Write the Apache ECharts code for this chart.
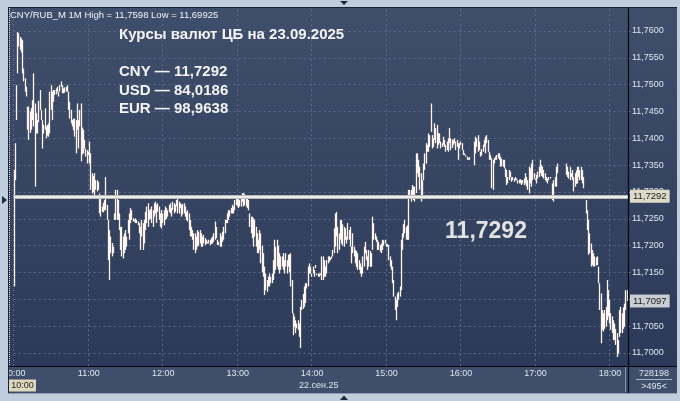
<!DOCTYPE html>
<html><head><meta charset="utf-8">
<script src="https://cdn.jsdelivr.net/npm/echarts@6/dist/echarts.min.js"></script>
<style>html,body{margin:0;padding:0;background:#bfcddc}#c{width:680px;height:401px}</style>
</head><body><div id="c"></div>
<script>
// 1-minute bars, CNY/RUB_M, 22.09.25 from 10:00 (null = no trades)
const highs = [
11.7341,11.7391,11.7499,11.7598,11.7596,11.7589,11.7586,11.7583,11.7530,11.7512,
11.7496,11.7459,11.7459,11.7450,11.7456,11.7471,11.7521,11.7465,11.7447,11.7434,
11.7470,11.7490,11.7453,11.7434,11.7425,11.7456,11.7422,11.7425,11.7428,11.7487,
11.7499,11.7487,11.7490,11.7490,11.7493,11.7496,11.7487,11.7499,11.7506,11.7499,
11.7493,11.7495,11.7496,11.7499,11.7487,11.7468,11.7453,11.7434,11.7436,11.7437,
11.7434,11.7465,11.7434,11.7453,11.7465,11.7420,11.7416,11.7397,11.7381,11.7378,
11.7375,11.7394,11.7372,11.7335,11.7330,11.7335,11.7322,11.7322,11.7319,11.7297,
11.7291,11.7273,11.7280,11.7285,11.7328,11.7276,11.7248,11.7229,11.7217,11.7205,
11.7198,11.7260,11.7304,
11.7304,11.7285,11.7260,11.7235,11.7235,11.7217,11.7223,11.7229,11.7217,11.7248,
11.7260,11.7270,11.7266,11.7251,11.7248,11.7251,11.7248,11.7245,11.7242,11.7235,
11.7248,11.7242,11.7248,11.7263,11.7273,11.7279,11.7266,11.7268,11.7273,11.7266,
11.7279,11.7282,11.7276,11.7279,11.7273,11.7260,11.7266,11.7260,11.7266,11.7273,
11.7270,11.7266,11.7276,11.7279,11.7270,11.7282,11.7279,11.7276,11.7285,11.7288,
11.7282,11.7279,11.7276,11.7278,11.7279,11.7273,11.7263,11.7266,11.7260,11.7248,
11.7235,11.7229,11.7223,11.7223,11.7217,11.7229,11.7226,11.7229,11.7223,11.7217,
11.7220,11.7214,11.7211,11.7207,11.7211,11.7211,11.7214,11.7217,11.7223,11.7245,
11.7235,11.7211,11.7207,
11.7223,11.7217,11.7226,11.7235,11.7248,11.7248,11.7260,11.7266,11.7266,11.7270,
11.7276,11.7273,11.7285,11.7291,11.7294,11.7291,11.7285,11.7288,11.7298,11.7298,
11.7296,11.7291,11.7294,11.7285,11.7260,11.7254,11.7254,11.7251,11.7248,11.7235,
11.7223,11.7211,11.7229,11.7223,11.7200,11.7186,11.7161,11.7148,11.7136,11.7142,
11.7148,11.7142,11.7148,11.7173,11.7211,11.7198,11.7211,11.7200,11.7186,11.7180,
11.7180,11.7186,11.7173,11.7186,11.7173,11.7183,11.7184,11.7186,11.7136,11.7074,
11.7068,11.7061,11.7055,11.7061,11.7055,11.7086,11.7099,11.7110,11.7124,11.7130,
11.7130,11.7161,11.7167,11.7161,11.7148,11.7161,11.7155,11.7164,11.7148,11.7148,
11.7148,11.7148,11.7180,
11.7180,11.7173,11.7161,11.7173,11.7180,11.7180,11.7178,11.7180,11.7192,11.7232,
11.7260,11.7263,11.7235,11.7223,11.7248,11.7248,11.7240,11.7235,11.7232,11.7217,
11.7242,11.7229,11.7235,11.7198,11.7223,11.7198,11.7192,11.7190,11.7186,11.7173,
11.7167,11.7161,11.7180,11.7198,11.7207,11.7192,11.7180,11.7192,11.7190,11.7186,
11.7254,11.7242,11.7223,11.7217,11.7211,11.7207,11.7201,11.7204,11.7211,11.7210,
11.7211,11.7204,11.7203,11.7201,11.7180,11.7173,11.7161,11.7136,11.7105,11.7099,
11.7111,11.7114,11.7124,11.7211,11.7223,11.7240,11.7248,11.7235,11.7238,11.7304,
11.7304,11.7304,11.7313,11.7310,11.7310,11.7372,11.7372,11.7360,11.7347,11.7335,
11.7322,11.7353,11.7372,
11.7391,11.7388,11.7409,11.7406,11.7465,11.7406,11.7400,11.7428,11.7419,11.7425,
11.7410,11.7409,11.7394,11.7391,11.7403,11.7397,11.7388,11.7394,11.7400,11.7419,
11.7400,11.7398,11.7397,11.7400,11.7394,11.7397,11.7391,11.7391,11.7394,11.7391,
11.7378,11.7372,11.7369,11.7366,11.7363,11.7365,null,null,null,11.7394,
11.7403,11.7400,11.7406,11.7394,11.7375,11.7380,11.7388,11.7397,11.7403,11.7406,
11.7397,11.7375,11.7369,11.7363,11.7360,11.7363,11.7366,11.7369,11.7372,11.7372,
11.7366,11.7362,11.7360,11.7360,11.7344,11.7341,11.7328,11.7341,11.7338,11.7328,
11.7328,11.7325,11.7328,11.7325,11.7322,11.7323,11.7324,11.7322,11.7322,11.7325,
11.7335,11.7328,11.7322,
11.7347,11.7344,11.7353,11.7360,11.7335,11.7325,11.7332,11.7338,11.7347,11.7360,
11.7350,11.7347,11.7341,11.7335,11.7328,11.7325,11.7328,11.7328,null,11.7316,
11.7322,11.7328,11.7347,11.7353,null,null,null,null,null,null,
11.7353,11.7347,11.7338,11.7347,11.7335,11.7341,11.7328,11.7335,11.7340,11.7347,
11.7347,11.7341,11.7347,11.7341,11.7328,null,11.7285,11.7266,11.7248,11.7223,
11.7204,11.7192,11.7186,11.7180,11.7178,11.7180,11.7161,11.7130,11.7111,11.7080,
11.7074,11.7080,11.7086,11.7136,11.7117,11.7099,11.7074,11.7068,11.7061,11.7055,
11.7045,11.7037,11.7024,11.7080,11.7086,11.7074,11.7085,11.7092,11.7117,11.7117
];
const lows = [
11.7124,11.7322,11.7434,11.7521,11.7571,11.7565,11.7560,11.7521,11.7506,11.7487,
11.7478,11.7416,11.7397,11.7410,11.7416,11.7434,11.7422,11.7310,11.7409,11.7409,
11.7430,11.7453,11.7434,11.7381,11.7409,11.7416,11.7400,11.7405,11.7403,11.7409,
11.7453,11.7434,11.7468,11.7481,11.7482,11.7487,11.7478,11.7487,11.7496,11.7484,
11.7484,11.7485,11.7487,11.7487,11.7453,11.7437,11.7428,11.7422,11.7415,11.7403,
11.7372,11.7416,11.7381,11.7422,11.7357,11.7370,11.7372,11.7381,11.7366,11.7353,
11.7369,11.7353,11.7304,11.7297,11.7300,11.7288,11.7304,11.7301,11.7304,11.7260,
11.7254,11.7263,11.7262,11.7266,11.7266,11.7248,11.7173,11.7136,11.7186,11.7180,
11.7186,11.7248,11.7248,
11.7248,11.7248,11.7229,11.7192,11.7180,11.7176,11.7186,11.7192,11.7198,11.7223,
11.7211,11.7242,11.7248,11.7245,11.7245,11.7242,11.7242,11.7238,11.7223,11.7192,
11.7217,11.7192,11.7204,11.7229,11.7242,11.7235,11.7248,11.7250,11.7242,11.7235,
11.7254,11.7260,11.7242,11.7263,11.7248,11.7235,11.7232,11.7242,11.7238,11.7248,
11.7250,11.7254,11.7263,11.7260,11.7254,11.7266,11.7260,11.7263,11.7273,11.7260,
11.7260,11.7270,11.7254,11.7258,11.7260,11.7254,11.7248,11.7245,11.7229,11.7217,
11.7217,11.7211,11.7192,11.7186,11.7192,11.7198,11.7200,11.7204,11.7198,11.7198,
11.7204,11.7201,11.7204,11.7204,11.7204,11.7201,11.7203,11.7204,11.7207,11.7211,
11.7214,11.7201,11.7201,
11.7198,11.7198,11.7207,11.7211,11.7223,11.7242,11.7242,11.7248,11.7254,11.7260,
11.7260,11.7260,11.7266,11.7276,11.7273,11.7270,11.7273,11.7273,11.7282,11.7273,
11.7275,11.7273,11.7270,11.7266,11.7235,11.7223,11.7214,11.7198,11.7217,11.7198,
11.7186,11.7186,11.7192,11.7167,11.7150,11.7142,11.7108,11.7117,11.7114,11.7124,
11.7124,11.7130,11.7130,11.7136,11.7148,11.7155,11.7161,11.7155,11.7148,11.7155,
11.7161,11.7155,11.7148,11.7161,11.7148,11.7161,11.7150,11.7124,11.7074,11.7033,
11.7049,11.7037,11.7046,11.7043,11.7030,11.7009,11.7080,11.7082,11.7086,11.7093,
11.7120,11.7124,11.7148,11.7148,11.7142,11.7148,11.7142,11.7158,11.7145,11.7142,
11.7142,11.7145,11.7136,
11.7136,11.7142,11.7142,11.7148,11.7167,11.7170,11.7173,11.7176,11.7180,11.7186,
11.7198,11.7217,11.7186,11.7192,11.7211,11.7204,11.7200,11.7198,11.7211,11.7204,
11.7211,11.7211,11.7198,11.7167,11.7186,11.7180,11.7167,11.7160,11.7155,11.7155,
11.7148,11.7142,11.7148,11.7161,11.7186,11.7173,11.7155,11.7161,11.7160,11.7161,
11.7192,11.7211,11.7211,11.7207,11.7192,11.7192,11.7189,11.7186,11.7192,11.7200,
11.7204,11.7198,11.7198,11.7173,11.7161,11.7155,11.7130,11.7105,11.7080,11.7061,
11.7086,11.7099,11.7105,11.7117,11.7192,11.7215,11.7223,11.7211,11.7211,11.7211,
11.7291,11.7282,11.7291,11.7285,11.7282,11.7298,11.7335,11.7328,11.7304,11.7282,
11.7291,11.7322,11.7341,
11.7353,11.7375,11.7375,11.7384,11.7412,11.7381,11.7384,11.7397,11.7391,11.7381,
11.7388,11.7391,11.7381,11.7384,11.7388,11.7384,11.7375,11.7378,11.7375,11.7391,
11.7378,11.7382,11.7388,11.7391,11.7378,11.7384,11.7360,11.7381,11.7388,11.7378,
11.7369,11.7369,11.7366,11.7360,11.7360,11.7360,null,null,null,11.7350,
11.7372,11.7384,11.7375,11.7378,11.7366,11.7368,11.7375,11.7384,11.7372,11.7391,
11.7375,11.7360,11.7360,11.7307,11.7304,11.7353,11.7360,11.7360,11.7363,11.7360,
11.7347,11.7348,11.7347,11.7344,11.7328,11.7313,11.7316,11.7322,11.7328,11.7319,
11.7322,11.7319,11.7322,11.7322,11.7316,11.7316,11.7316,11.7313,11.7316,11.7313,
11.7316,11.7310,11.7304,
11.7297,11.7316,11.7310,11.7322,11.7325,11.7322,11.7316,11.7325,11.7328,11.7335,
11.7330,11.7328,11.7325,11.7322,11.7319,11.7316,11.7322,11.7325,null,11.7285,
11.7282,11.7310,11.7310,11.7335,null,null,null,null,null,null,
11.7332,11.7328,11.7325,11.7322,11.7328,11.7322,11.7301,11.7310,11.7315,11.7316,
11.7328,11.7322,11.7322,11.7316,11.7307,null,11.7260,11.7229,11.7183,11.7186,
11.7161,11.7164,11.7161,11.7161,11.7163,11.7164,11.7130,11.7080,11.7018,11.7043,
11.7040,11.7045,11.7049,11.7061,11.7068,11.7055,11.7043,11.7037,11.7024,11.7024,
11.7015,11.69925,11.6999,11.7030,11.7037,11.7037,11.7045,11.7049,11.7080,11.7097
];
const startHour = 10;
const cbRate = 11.7292;
const lastPrice = 11.7097;
const headerText = 'CNY/RUB_M 1M High = 11,7598 Low = 11,69925';
const titleText = 'Курсы валют ЦБ на 23.09.2025';
const rateLines = ['CNY — 11,7292', 'USD — 84,0186', 'EUR — 98,9638'];
const dateLabel = '22.сен.25';
const volumeText = '728198';
const countText = '>495<';

const minutes = highs.map((_, i) => (startHour + Math.floor(i / 60)) + ':' + String(i % 60).padStart(2, '0'));
const candles = highs.map((h, i) => h == null ? ['-', '-', '-', '-'] : [lows[i], h, lows[i], h]);
const fmt = v => v.toFixed(4).replace('.', ',');
const FF = '"Liberation Sans", Arial, sans-serif';
const LIGHT = '#bfcddc';
const BAR = '#fff4ee';

const chart = echarts.init(document.getElementById('c'), null, {renderer: 'canvas'});
chart.setOption({
  animation: false,
  grid: {left: 9, right: 52, top: 4.17, bottom: 21.2},
  xAxis: [{
    type: 'category', data: minutes, boundaryGap: true, z: 0,
    axisLine: {show: false}, axisTick: {show: false}, axisLabel: {show: false},
    splitLine: {show: true, interval: (i) => i % 60 === 0, lineStyle: {color: '#5b6a88', type: [2, 3], width: 1}}
  }, {
    type: 'category', data: minutes, boundaryGap: true, position: 'bottom', offset: -13.8, z: 20,
    axisLine: {show: false}, axisTick: {show: false}, splitLine: {show: false},
    axisLabel: {interval: (i) => i % 60 === 0, margin: 3, color: '#dfe6f0', fontSize: 9, fontFamily: FF, hideOverlap: false}
  }],
  yAxis: {
    type: 'value', position: 'right', min: 11.695, max: 11.765, interval: 0.005, z: 0,
    axisLine: {show: false},
    axisTick: {show: true, length: 2, lineStyle: {color: '#8ea0c0'}},
    axisLabel: {margin: 4, color: '#dfe6f0', fontSize: 9, fontFamily: FF,
      formatter: v => (v < 11.6999 || v > 11.7601) ? '' : fmt(v)},
    splitLine: {show: true, lineStyle: {color: '#5b6a88', type: [2, 3], width: 1}}
  },
  series: [{
    type: 'candlestick', data: candles, barWidth: 1.2, z: 2,
    itemStyle: {color: BAR, color0: BAR, borderColor: BAR, borderColor0: BAR, borderWidth: 1.3},
    markLine: {
      silent: true, symbol: ['none', 'none'], animation: false, precision: 4,
      data: [
        {yAxis: cbRate, lineStyle: {color: '#b9b9b9', width: 4, type: 'solid'}, label: {show: false}},
        {yAxis: cbRate, lineStyle: {color: '#ffffff', width: 1.6, type: 'solid'},
          label: {show: true, position: 'end', distance: 2, formatter: fmt(cbRate), color: '#1c1c1c',
            backgroundColor: '#dedbc8', padding: [2, 3, 1, 3], fontSize: 9.5, fontFamily: FF}},
        {yAxis: lastPrice, lineStyle: {color: 'rgba(0,0,0,0)', width: 1, type: 'solid'},
          label: {show: true, position: 'end', distance: 2, formatter: fmt(lastPrice), color: '#1c1c1c',
            backgroundColor: '#c9cdd4', padding: [2, 3, 1, 3], fontSize: 9.5, fontFamily: FF}}
      ]
    }
  }],
  graphic: {elements: [
    {type: 'rect', z: -10, shape: {x: 8, y: 7, width: 669, height: 360},
      style: {fill: new echarts.graphic.LinearGradient(0, 0, 0, 1, [{offset: 0, color: '#3f4e6a'}, {offset: 1, color: '#2c3a59'}])}},
    {type: 'rect', z: 10, shape: {x: 8, y: 366.5, width: 669, height: 27}, style: {fill: '#3f4e6b'}},
    {type: 'rect', z: 50, shape: {x: 0, y: 0, width: 680, height: 7}, style: {fill: LIGHT}},
    {type: 'rect', z: 50, shape: {x: 0, y: 0, width: 8, height: 401}, style: {fill: LIGHT}},
    {type: 'rect', z: 50, shape: {x: 677, y: 0, width: 3, height: 401}, style: {fill: LIGHT}},
    {type: 'rect', z: 50, shape: {x: 0, y: 393.5, width: 680, height: 8}, style: {fill: LIGHT}},
    {type: 'line', z: 51, shape: {x1: 8, y1: 7.5, x2: 677, y2: 7.5}, style: {stroke: '#1a2232', lineWidth: 1}},
    {type: 'line', z: 51, shape: {x1: 8.5, y1: 7, x2: 8.5, y2: 393}, style: {stroke: '#1a2232', lineWidth: 1}},
    {type: 'line', z: 51, shape: {x1: 8, y1: 393.5, x2: 677, y2: 393.5}, style: {stroke: '#8c9ab0', lineWidth: 1}},
    {type: 'line', z: 15, shape: {x1: 9.5, y1: 8, x2: 9.5, y2: 366}, style: {stroke: '#e8ecf2', lineWidth: 1, lineDash: [1, 1]}},
    {type: 'line', z: 30, shape: {x1: 8, y1: 366.5, x2: 677, y2: 366.5}, style: {stroke: '#05070c', lineWidth: 1.2}},
    {type: 'line', z: 30, shape: {x1: 628.5, y1: 7, x2: 628.5, y2: 393}, style: {stroke: '#05070c', lineWidth: 1.2}},
    {type: 'line', z: 30, shape: {x1: 625.5, y1: 367, x2: 625.5, y2: 392}, style: {stroke: '#8090ac', lineWidth: 1}},
    {type: 'polygon', z: 52, shape: {points: [[340, 1], [348, 1], [344, 5]]}, style: {fill: '#1e2a40'}},
    {type: 'polygon', z: 52, shape: {points: [[340, 400], [348, 400], [344, 395.5]]}, style: {fill: '#1e2a40'}},
    {type: 'polygon', z: 52, shape: {points: [[2, 196], [2, 204], [7, 200]]}, style: {fill: '#1e2a40'}},
    {type: 'text', z: 40, x: 10, y: 15, style: {text: headerText, fill: '#f2f4f8', font: '9.5px ' + FF, textVerticalAlign: 'middle'}},
    {type: 'text', z: 40, x: 119, y: 35, style: {text: titleText, fill: '#f4f4f4', font: 'bold 15px ' + FF, textVerticalAlign: 'middle'}},
    {type: 'text', z: 40, x: 119, y: 72, style: {text: rateLines[0], fill: '#f4f4f4', font: 'bold 15px ' + FF, textVerticalAlign: 'middle'}},
    {type: 'text', z: 40, x: 119, y: 91, style: {text: rateLines[1], fill: '#f4f4f4', font: 'bold 15px ' + FF, textVerticalAlign: 'middle'}},
    {type: 'text', z: 40, x: 119, y: 109, style: {text: rateLines[2], fill: '#f4f4f4', font: 'bold 15px ' + FF, textVerticalAlign: 'middle'}},
    {type: 'text', z: 40, x: 486, y: 232, style: {text: fmt(cbRate), fill: '#e2e2e2', font: 'bold 23px ' + FF, textAlign: 'center', textVerticalAlign: 'middle'}},
    {type: 'rect', z: 40, shape: {x: 9, y: 379.5, width: 27, height: 12}, style: {fill: '#dcd7bf'}},
    {type: 'text', z: 41, x: 22.5, y: 386, style: {text: minutes[0], fill: '#2a2418', font: '9px ' + FF, textAlign: 'center', textVerticalAlign: 'middle'}},
    {type: 'text', z: 40, x: 299, y: 386, style: {text: dateLabel, fill: '#dfe6f0', font: '9px ' + FF, textVerticalAlign: 'middle'}},
    {type: 'text', z: 40, x: 654, y: 374, style: {text: volumeText, fill: '#dfe6f0', font: '9px ' + FF, textAlign: 'center', textVerticalAlign: 'middle'}},
    {type: 'line', z: 40, shape: {x1: 636, y1: 379.5, x2: 672, y2: 379.5}, style: {stroke: '#a8b4c8', lineWidth: 1}},
    {type: 'text', z: 40, x: 654, y: 387, style: {text: countText, fill: '#dfe6f0', font: '9px ' + FF, textAlign: 'center', textVerticalAlign: 'middle'}}
  ]}
});
</script>
</body></html>
